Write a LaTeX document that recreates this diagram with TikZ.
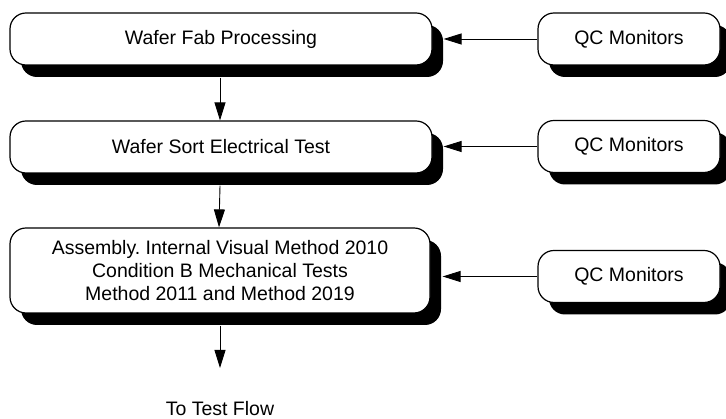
\documentclass[tikz,border=0pt]{standalone}
\usepackage{fontspec}
\setmainfont{Liberation Sans}
\usetikzlibrary{shadows,arrows.meta}
\begin{document}
\begin{tikzpicture}[x=1pt,y=1pt,
  font=\fontsize{19.5}{23}\selectfont\frenchspacing,
  procbox/.style={draw=black, line width=1.2pt, fill=white, rounded corners=16pt,
    inner sep=0pt, align=center,
    drop shadow={shadow xshift=11pt, shadow yshift=-12pt, fill=black, opacity=1}},
  flowarrow/.style={draw=black, line width=0.9pt, -{Triangle[length=18pt,width=11pt]}}
]
\useasboundingbox (0,0) rectangle (726,419);
\begin{scope}
\clip (0,0) rectangle (726,419);
\node[procbox, minimum width=422pt, minimum height=52pt] (b1) at (221,380) {Wafer Fab Processing};
\node[procbox, minimum width=422pt, minimum height=52pt] (b2) at (221,272) {Wafer Sort Electrical Test};
\node[procbox, minimum width=420pt, minimum height=85pt] (b3) at (220,148.5)
  {Assembly. Internal Visual Method 2010\\Condition B Mechanical Tests\\Method 2011 and Method 2019};
\node[procbox, minimum width=182pt, minimum height=52pt] (q1) at (629,380) {QC Monitors};
\node[procbox, minimum width=182pt, minimum height=52pt] (q2) at (629,272.5) {QC Monitors};
\node[procbox, minimum width=182pt, minimum height=52pt] (q3) at (629,142.5) {QC Monitors};
\end{scope}
\node[anchor=base, inner sep=0pt] (tf) at (220,3.5) {To Test Flow};
\coordinate (end3) at (220,51);
\draw[flowarrow] ([xshift=-1pt,yshift=-12pt]b1.south) -- ([xshift=-1pt]b2.north);
\draw[flowarrow] ([xshift=-1pt,yshift=-12pt]b2.south) -- ([xshift=-1pt]b3.north);
\draw[flowarrow] ([yshift=-12pt]b3.south) -- (end3);
\draw[flowarrow] (q1.west) -- ([xshift=11pt]b1.east |- q1.west);
\draw[flowarrow] (q2.west) -- ([xshift=11pt]b2.east |- q2.west);
\draw[flowarrow] (q3.west) -- ([xshift=12pt]b3.east |- q3.west);
\end{tikzpicture}
\end{document}
